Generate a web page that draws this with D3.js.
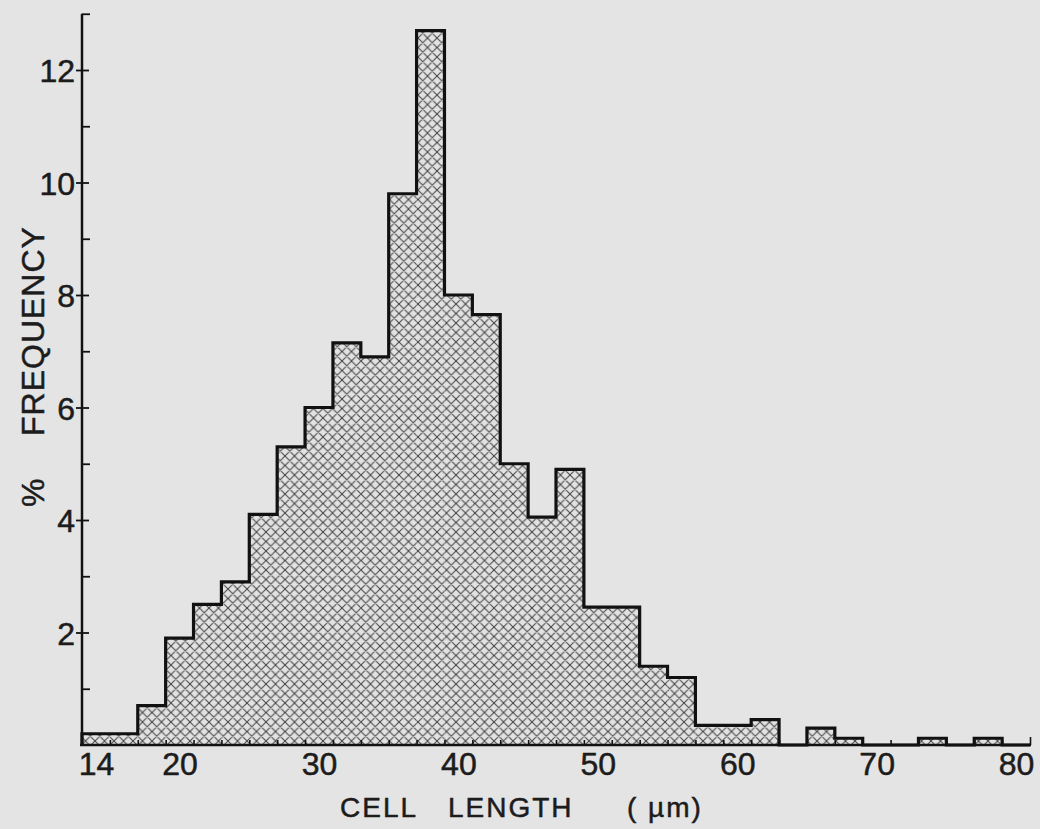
<!DOCTYPE html>
<html>
<head>
	<meta charset="utf-8">
	<script src="https://d3js.org/d3.v7.min.js"></script>
	<title>Cell length histogram</title>
	<style>
		body { margin: 0; background: #e4e4e4; }
		svg { display: block; }
		text { font-family: "Liberation Sans", Arial, sans-serif; fill: #1c1c1c; stroke: #1c1c1c; stroke-width: 0.5px; }
	</style>
</head>
<body>
	<div id="chart"></div>

	<script type="text/javascript">

		// bins are 2 um wide, left edges 13, 15, ... 79
		var binStarts = d3.range(13, 81, 2);
		var freq = [0.2, 0.2, 0.7, 1.9, 2.5, 2.9, 4.1, 5.3, 6.0, 7.15,
		            6.9, 9.8, 12.7, 8.0, 7.65, 5.0, 4.05, 4.9, 2.45, 2.45,
		            1.4, 1.2, 0.35, 0.35, 0.45, 0, 0.3, 0.12, 0, 0,
		            0.12, 0, 0.12, 0];
		var xLabels = [14, 20, 30, 40, 50, 60, 70, 80];
		var yMajor = [2, 4, 6, 8, 10, 12];
		var yMinor = [1, 3, 5, 7, 9, 11, 13];

		var data = binStarts.map(function(s, i){
			return {x0: s, x1: s + 2, f: freq[i]};
		});

		var svgwidth = 1040;
		var svgheight = 829;

		var xScale = d3.scaleLinear()
						.domain([13, 81])
						.range([82, 1030]);

		var yScale = d3.scaleLinear()
						.domain([0, 13])
						.range([745, 13.75]);

		var svg = d3.select("#chart").append("svg")
						.attr("width", svgwidth)
						.attr("height", svgheight);

		// cross hatch fill
		var p = 9.5;
		var pat = svg.append("defs").append("pattern")
			.attr("id", "hatch")
			.attr("patternUnits", "userSpaceOnUse")
			.attr("width", p)
			.attr("height", p);
		pat.append("rect")
			.attr("width", p).attr("height", p)
			.attr("fill", "#e2e2e2");
		pat.append("path")
			.attr("d", "M0,0L" + p + "," + p + "M" + p + ",0L0," + p +
			           "M-1," + (p-1) + "L1," + (p+1) + "M" + (p-1) + ",-1L" + (p+1) + ",1" +
			           "M-1,1L1,-1M" + (p-1) + "," + (p+1) + "L" + (p+1) + "," + (p-1))
			.attr("stroke", "#454545")
			.attr("stroke-width", 1.05);

		svg.selectAll(".bar")
			.data(data.filter(function(d){ return d.f > 0; }))
			.enter().append("rect")
			.attr("class", "bar")
			.attr("x", function(d){ return xScale(d.x0); })
			.attr("y", function(d){ return yScale(d.f); })
			.attr("width", function(d){ return xScale(d.x1) - xScale(d.x0); })
			.attr("height", function(d){ return yScale(0) - yScale(d.f); })
			.attr("fill", "url(#hatch)");

		// outline of the histogram
		var pts = [[13, 0]];
		data.forEach(function(d){
			pts.push([d.x0, d.f]);
			pts.push([d.x1, d.f]);
		});
		pts.push([81, 0]);

		var line = d3.line()
			.x(function(p){ return xScale(p[0]); })
			.y(function(p){ return yScale(p[1]); });

		svg.append("path")
			.attr("d", line(pts))
			.attr("fill", "none")
			.attr("stroke", "#111")
			.attr("stroke-width", 3.2)
			.attr("stroke-linejoin", "miter");

		// y axis: major ticks with labels
		var yAxis = svg.append("g")
			.attr("transform", "translate(" + xScale(13) + ",0)")
			.call(d3.axisLeft(yScale).tickValues(yMajor).tickSize(6).tickSizeOuter(0).tickPadding(1));
		yAxis.select(".domain").remove();
		yAxis.selectAll("line")
			.attr("x1", 7).attr("x2", -6)
			.attr("stroke", "#111").attr("stroke-width", 1.8);
		yAxis.selectAll("text")
			.style("font-size", "32px")
			.attr("dy", "0.36em");

		// y axis: minor ticks
		var yMinorAxis = svg.append("g")
			.attr("transform", "translate(" + xScale(13) + ",0)")
			.call(d3.axisRight(yScale).tickValues(yMinor).tickSize(8).tickFormat(""));
		yMinorAxis.select(".domain").remove();
		yMinorAxis.selectAll("line").attr("stroke", "#111").attr("stroke-width", 1.8);

		svg.append("line")
			.attr("x1", xScale(13)).attr("x2", xScale(13))
			.attr("y1", yScale(13)).attr("y2", yScale(0) + 1)
			.attr("stroke", "#111").attr("stroke-width", 2.5);

		// x axis: labels sit at bin centres
		var xAxis = svg.append("g")
			.attr("transform", "translate(0," + yScale(0) + ")")
			.call(d3.axisBottom(xScale).tickValues(xLabels).tickSize(0).tickPadding(7));
		xAxis.select(".domain").remove();
		xAxis.selectAll("text").style("font-size", "32px");

		// x axis: small inward ticks on bin edges
		var xTicks = svg.append("g")
			.attr("transform", "translate(0," + yScale(0) + ")")
			.call(d3.axisTop(xScale).tickValues(d3.range(15, 82, 2)).tickSize(5).tickFormat(""));
		xTicks.select(".domain").remove();
		xTicks.selectAll("line").attr("stroke", "#111").attr("stroke-width", 1.6);
		xTicks.selectAll(".tick").filter(function(d){ return d === 81; })
			.select("line").attr("y2", -8);

		svg.append("line")
			.attr("x1", xScale(13) - 2).attr("x2", xScale(81) + 1)
			.attr("y1", yScale(0)).attr("y2", yScale(0))
			.attr("stroke", "#111").attr("stroke-width", 2.5);

		// axis titles
		var xTitle = svg.append("text")
			.attr("y", 817)
			.style("font-size", "28px")
			.style("letter-spacing", "2px");
		xTitle.append("tspan").attr("x", 340).text("CELL");
		xTitle.append("tspan").attr("x", 448).text("LENGTH");
		xTitle.append("tspan").attr("x", 627).text("( µm)");

		var yTitle = svg.append("text")
			.attr("transform", "translate(44,0) rotate(-90)")
			.style("font-size", "32px")
			.style("letter-spacing", "1px");
		yTitle.append("tspan").attr("x", -507).text("%");
		yTitle.append("tspan").attr("x", -436).text("FREQUENCY");

	</script>
</body>
</html>
